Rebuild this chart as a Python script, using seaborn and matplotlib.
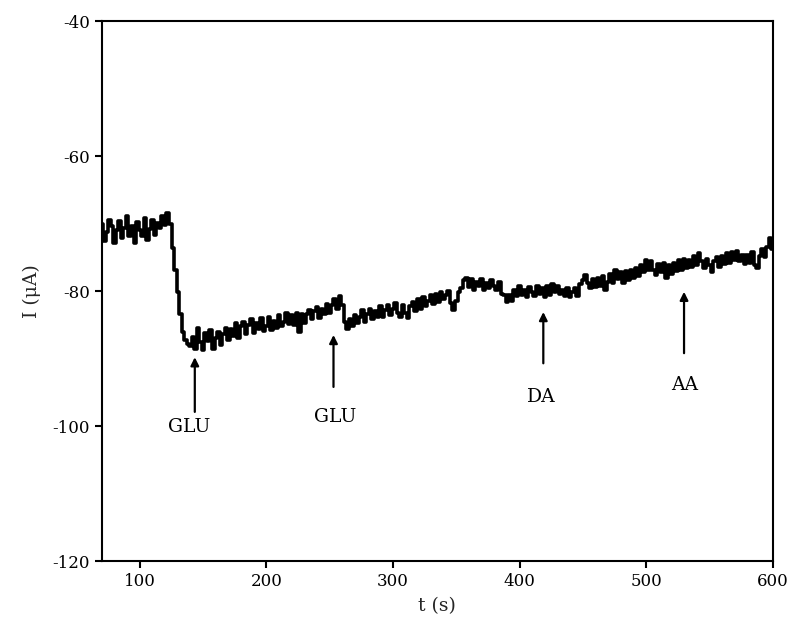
import numpy as np
import pandas as pd
import matplotlib
matplotlib.use("Agg")
import matplotlib.pyplot as plt
import seaborn as sns

# ---- data ----
t_start = 70
t_step = 2
current = [
    -70.0, -72.6, -71.2, -69.4, -70.3, -72.8, -71.0, -69.6, -72.2, -70.6,
    -68.8, -71.9, -70.4, -72.9, -69.7, -70.9, -71.8, -69.2, -72.4, -70.8,
    -69.4, -71.7, -69.9, -70.6, -68.9, -70.2, -68.4, -70.0, -73.6, -76.8,
    -80.2, -83.4, -86.0, -87.2, -87.8, -88.2, -86.8, -88.6, -85.4, -87.6,
    -88.8, -86.2, -87.4, -85.8, -88.6, -87.0, -86.0, -88.0, -86.4, -85.4,
    -87.2, -85.6, -86.6, -84.8, -86.9, -85.2, -84.6, -86.4, -85.0, -84.2,
    -86.2, -84.8, -85.6, -84.0, -85.9, -85.2, -83.9, -85.8, -84.4, -85.4,
    -83.6, -85.2, -84.6, -83.2, -84.9, -83.6, -85.0, -83.2, -86.0, -83.4,
    -84.8, -83.4, -82.8, -84.2, -83.0, -82.4, -84.0, -82.6, -83.4, -81.9,
    -83.2, -82.0, -81.2, -82.6, -80.8, -82.0, -84.6, -85.6, -84.2, -85.2,
    -83.6, -84.8, -83.9, -82.8, -84.6, -83.4, -82.6, -84.2, -83.0, -83.8,
    -82.2, -83.8, -82.8, -82.0, -83.6, -82.6, -81.8, -83.2, -83.8, -82.0,
    -83.2, -84.0, -82.2, -81.6, -82.9, -81.2, -82.6, -80.9, -82.2, -81.4,
    -80.6, -81.9, -80.4, -81.6, -80.2, -81.2, -80.6, -80.0, -81.8, -82.8,
    -81.4, -80.2, -79.6, -78.4, -78.0, -79.4, -78.2, -79.8, -78.6, -79.2,
    -78.2, -79.8, -78.8, -79.6, -78.4, -79.2, -79.8, -78.6, -80.4, -80.6,
    -81.6, -80.6, -81.4, -79.8, -80.8, -79.2, -80.6, -79.8, -80.9, -79.4,
    -80.2, -80.8, -79.2, -80.4, -79.6, -80.9, -79.2, -80.6, -78.9, -80.2,
    -79.2, -80.4, -79.8, -80.8, -79.6, -80.9, -80.2, -79.6, -80.8, -79.0,
    -78.4, -77.6, -78.8, -79.6, -78.2, -79.4, -78.0, -79.2, -77.8, -79.8,
    -78.6, -77.4, -78.8, -76.9, -78.2, -77.2, -78.8, -77.0, -78.4, -76.8,
    -78.0, -76.6, -77.8, -76.2, -77.2, -75.4, -76.8, -75.6, -76.8, -77.6,
    -76.0, -77.2, -75.9, -78.0, -76.2, -77.4, -75.8, -77.0, -75.4, -76.8,
    -75.2, -76.6, -75.4, -76.4, -74.8, -76.2, -74.4, -75.6, -76.6, -75.2,
    -76.2, -77.2, -75.6, -75.0, -76.4, -74.8, -76.0, -74.4, -75.8, -74.2,
    -75.4, -74.0, -75.6, -74.6, -76.0, -74.6, -75.8, -74.2, -76.2, -76.6,
    -74.8, -73.8, -75.0, -73.4, -72.2, -73.8,
]
time = t_start + t_step * np.arange(len(current))

labels = ["GLU", "GLU", "DA", "AA"]
arrow_x = [143.4, 253.0, 418.8, 530.0]
arrow_tip = [-89.8, -86.5, -83.1, -80.1]
arrow_tail = [-97.9, -94.2, -90.7, -89.2]
label_x = [139.0, 254.0, 417.0, 530.5]
label_y = [-100.1, -98.7, -95.7, -93.9]

x_ticks = [100, 200, 300, 400, 500, 600]
y_ticks = [-120, -100, -80, -60, -40]

# ---- style ----
sns.set_style("ticks")
plt.rcParams["font.family"] = ["DejaVu Serif"]
plt.rcParams["axes.unicode_minus"] = False

fig = plt.figure(figsize=(7.9, 6.22), dpi=100)
ax = fig.add_axes([0.129, 0.098, 0.849, 0.868])

df = pd.DataFrame({"t": time, "I": current})
sns.lineplot(data=df, x="t", y="I", ax=ax, color="black", linewidth=2.6,
             drawstyle="steps-mid")

for lab, ax_x, tip, tail, lx, ly in zip(labels, arrow_x, arrow_tip, arrow_tail, label_x, label_y):
    ax.annotate("", xy=(ax_x, tip), xytext=(ax_x, tail),
                arrowprops=dict(arrowstyle="-|>", color="black", lw=1.6,
                                mutation_scale=12, shrinkA=0, shrinkB=0))
    ax.text(lx, ly, lab, ha="center", va="center", fontsize=13.5, color="black")

ax.set_xlim(70, 600)
ax.set_ylim(-120, -40)
ax.set_xticks(x_ticks)
ax.set_yticks(y_ticks)
ax.tick_params(direction="out", length=5, width=1.5, labelsize=12, colors="black")
for s in ax.spines.values():
    s.set_linewidth(1.5)
    s.set_color("black")
ax.set_xlabel("t (s)", fontsize=13.5, labelpad=5)
ax.set_ylabel("I (μA)", fontsize=13.5, labelpad=8)

fig.savefig("out.png", dpi=100)
